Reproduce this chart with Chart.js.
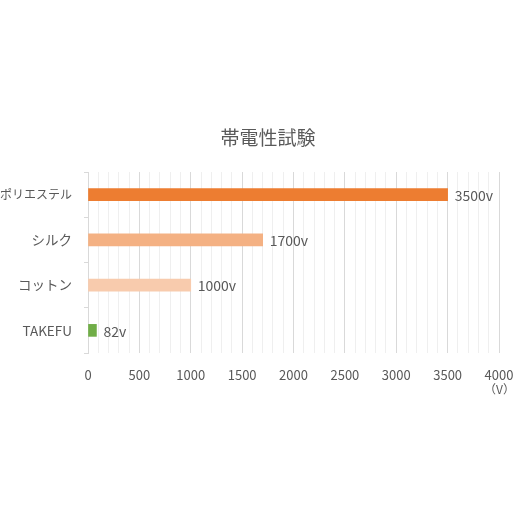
<!DOCTYPE html>
<html>
<head>
<meta charset="utf-8">
<script src="https://cdn.jsdelivr.net/npm/chart.js@4.4.0/dist/chart.umd.min.js"></script>
<style>
  html, body { margin: 0; padding: 0; background: #fff; }
  #c { display: block; }
</style>
</head>
<body>
<canvas id="c" width="520" height="520"></canvas>
<script>
// データ
const chartTitle = '帯電性試験';
const categories = ['ポリエステル', 'シルク', 'コットン', 'TAKEFU'];
const voltages = [3500, 1700, 1000, 82];
const barColors = ['#ED7D31', '#F4B183', '#F8CBAD', '#70AD47'];
const valueLabels = ['3500v', '1700v', '1000v', '82v'];
const xMax = 4000;
const unitLabel = '（V）';

const fontFamily = '"Noto Sans CJK JP", "Noto Sans", sans-serif';
const textColor = '#595959';

// タイトル・単位・値ラベルを描く
const textPlugin = {
  id: 'extraText',
  afterDatasetsDraw(chart) {
    const ctx = chart.ctx;
    const meta = chart.getDatasetMeta(0);
    ctx.save();
    ctx.fillStyle = textColor;
    ctx.textBaseline = 'middle';

    ctx.font = '14px ' + fontFamily;
    ctx.textAlign = 'left';
    meta.data.forEach((bar, i) => {
      ctx.fillText(valueLabels[i], bar.x + 7, bar.y + 1);
    });

    ctx.font = '19px ' + fontFamily;
    ctx.textAlign = 'center';
    ctx.fillText(chartTitle, 268, 138);

    ctx.font = '12px ' + fontFamily;
    ctx.textAlign = 'right';
    ctx.fillText(unitLabel, chart.chartArea.right + 16, 389);
    ctx.restore();
  }
};

new Chart(document.getElementById('c'), {
  type: 'bar',
  data: {
    labels: categories,
    datasets: [{
      data: voltages,
      backgroundColor: barColors,
      barThickness: 12
    }]
  },
  options: {
    indexAxis: 'y',
    responsive: false,
    animation: false,
    layout: { padding: { left: 0, right: 21, top: 172, bottom: 122 } },
    plugins: {
      legend: { display: false },
      tooltip: { enabled: false }
    },
    scales: {
      x: {
        min: 0,
        max: xMax,
        ticks: {
          stepSize: 100,
          autoSkip: false,
          maxRotation: 0,
          color: textColor,
          font: { family: fontFamily, size: 13 },
          padding: 14,
          callback: v => (v % 500 === 0 ? v : '')
        },
        grid: {
          drawTicks: false,
          color: c => (c.tick && c.tick.value % 500 === 0 ? '#d9d9d9' : '#efefef')
        },
        border: { display: false },
        afterFit: s => { s.height = 45; s.paddingRight = 0; s.paddingLeft = 0; }
      },
      y: {
        ticks: {
          color: textColor,
          // 長いラベルだけ少し小さく
          font: c => ({ family: fontFamily, size: c.index === 0 ? 12 : 13.5 }),
          padding: 12
        },
        grid: {
          drawOnChartArea: false,
          tickLength: 4,
          color: '#d9d9d9'
        },
        border: { display: true, color: '#d9d9d9' },
        afterFit: s => { s.width = 88; }
      }
    }
  },
  plugins: [textPlugin]
});
</script>
</body>
</html>
